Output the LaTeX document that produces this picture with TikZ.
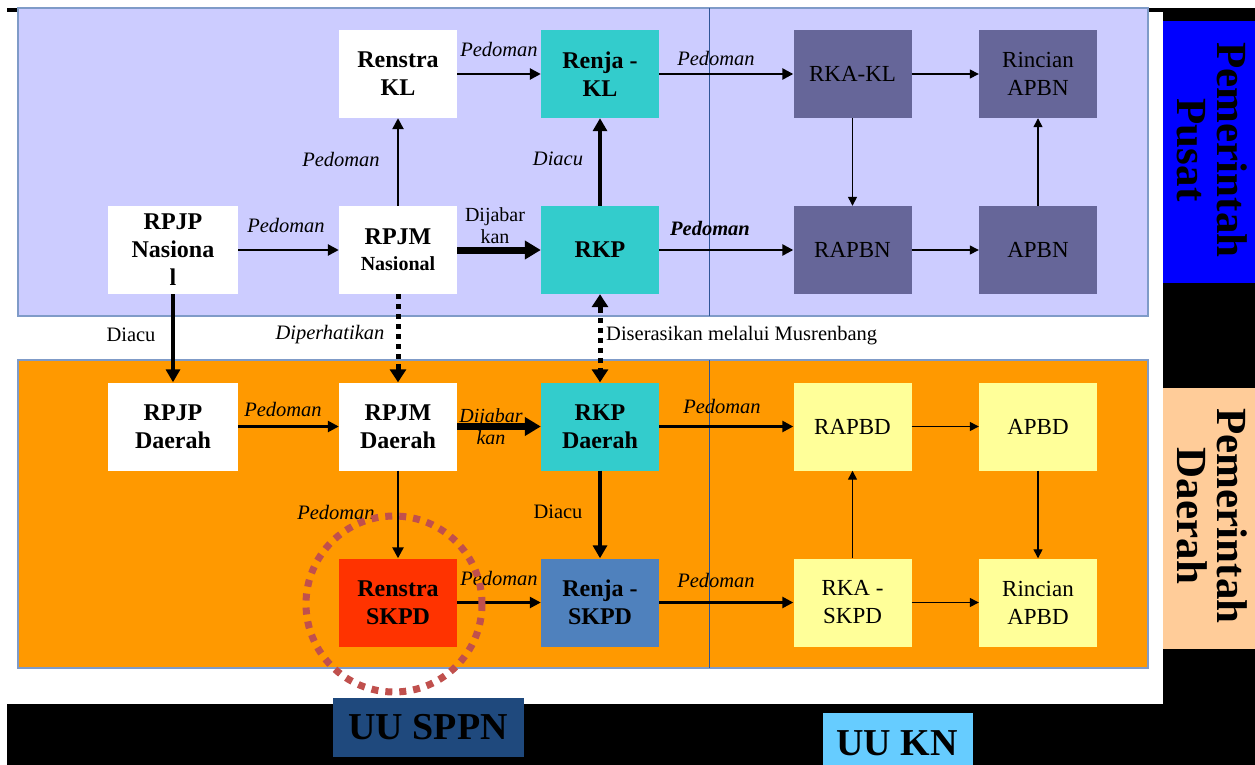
\documentclass[tikz,border=0pt]{standalone}
\usepackage{fontspec}
\setmainfont{Liberation Serif}
\usetikzlibrary{arrows.meta}
\definecolor{lav}{HTML}{CCCCFF}
\definecolor{panelline}{HTML}{7F9BC8}
\definecolor{divline}{HTML}{2F5597}
\definecolor{orng}{HTML}{FF9900}
\definecolor{teal2}{HTML}{33CCCC}
\definecolor{rka}{HTML}{666699}
\definecolor{ylw}{HTML}{FFFF99}
\definecolor{redbox}{HTML}{FF3300}
\definecolor{skpd}{HTML}{4F81BD}
\definecolor{pusat}{HTML}{0000FF}
\definecolor{peach}{HTML}{FFCC99}
\definecolor{sppn}{HTML}{1F497D}
\definecolor{ukn}{HTML}{66CCFF}
\definecolor{circ}{HTML}{C0504D}
\begin{document}
\begin{tikzpicture}[x=1pt,y=-1pt,
  box/.style={minimum width=118pt, minimum height=88pt, inner sep=0pt, align=center,
    font=\fontsize{24}{28}\selectfont\bfseries},
  wbox/.style={box, minimum width=130pt},
  rbox/.style={minimum width=118pt, minimum height=88pt, inner sep=0pt, align=center,
    font=\fontsize{23}{28}\selectfont},
  lab/.style={inner sep=0pt, align=center, font=\fontsize{20.5}{23}\selectfont\itshape},
  rlab/.style={inner sep=0pt, align=center, font=\fontsize{20.5}{23}\selectfont},
  tarr/.style={-{Triangle[length=9pt,width=9pt]}, line width=1.3pt},
  marr/.style={-{Triangle[length=11pt,width=11pt]}, line width=2.5pt},
  karr/.style={-{Triangle[length=13pt,width=14pt]}, line width=4pt},
  harr/.style={-{Triangle[length=16pt,width=18pt]}, line width=7pt},
  dotline/.style={line width=5pt, dash pattern=on 5pt off 5pt},
  dothead/.style={-{Triangle[length=13pt,width=16pt]}, line width=5pt},
  sidelab/.style={rotate=-90, align=center, inner sep=0pt, font=\fontsize{43}{40}\selectfont\bfseries},
  uulab/.style={inner sep=0pt, font=\fontsize{38}{40}\selectfont\bfseries}
]
\useasboundingbox (0,0) rectangle (1255,765);
% background
\fill[white] (0,0) rectangle (1255,765);
\fill[black] (7,8) rectangle (1255,765);
\fill[white] (7,12) rectangle (1163,704);
% side boxes
\fill[pusat] (1163,21) rectangle (1255,283);
\fill[peach] (1163,388) rectangle (1255,649);
\node[sidelab] (pp) at (1212,150) {Pemerintah\\Pusat};
\node[sidelab] (pd) at (1212,516) {Pemerintah\\Daerah};
% bottom labels
\fill[sppn] (333,698) rectangle (524,757);
\node[uulab] (uus) at (428,727) {UU SPPN};
\fill[ukn] (823,713) rectangle (973,765);
\node[uulab] (uuk) at (897,743) {UU KN};
% panels
\filldraw[fill=lav, draw=panelline, line width=1.2pt] (18,8) rectangle (1148,316);
\filldraw[fill=orng, draw=panelline, line width=1.2pt] (18,360) rectangle (1148,668);
\draw[divline, line width=1pt] (709,8) -- (709,316);
\draw[divline, line width=1pt] (709,360) -- (709,668);
% upper nodes
\node[box, fill=white] (renkl) at (398,74) {Renstra\\KL};
\node[box, fill=teal2] (renjakl) at (600,74) {Renja -\\KL};
\node[rbox, fill=rka] (rkakl) at (852.5,74) {RKA-KL};
\node[rbox, fill=rka] (rapbn2) at (1038,74) {Rincian\\APBN};
\node[wbox, fill=white] (rpjpn) at (173,250) {RPJP\\Nasiona\\l};
\node[box, fill=white] (rpjmn) at (398,250) {RPJM\\[-2pt]{\fontsize{20}{24}\selectfont Nasional}};
\node[box, fill=teal2] (rkp) at (600,250) {RKP};
\node[rbox, fill=rka] (rapbn) at (852.5,250) {RAPBN};
\node[rbox, fill=rka] (apbn) at (1038,250) {APBN};
% lower nodes
\node[wbox, fill=white] (rpjpd) at (173,426.5) {RPJP\\Daerah};
\node[box, fill=white] (rpjmd) at (398,426.5) {RPJM\\Daerah};
\node[box, fill=teal2] (rkpd) at (600,426.5) {RKP\\Daerah};
\node[rbox, fill=ylw] (rapbd) at (852.5,426.5) {RAPBD};
\node[rbox, fill=ylw] (apbd) at (1038,426.5) {APBD};
\node[box, fill=redbox] (rskpd) at (398,602.5) {Renstra\\SKPD};
\node[box, fill=skpd] (rjskpd) at (600,602.5) {Renja -\\SKPD};
\node[rbox, fill=ylw] (rkaskpd) at (852.5,602.5) {RKA -\\SKPD};
\node[rbox, fill=ylw] (rapbd2) at (1038,602.5) {Rincian\\APBD};
% helper points for dotted connectors
\coordinate (d1) at ([yshift=14pt]rpjmd.north);
\coordinate (d2) at ([yshift=-14pt]rkp.south);
\coordinate (d3) at ([yshift=14pt]rkpd.north);
% upper connectors
\draw[marr] (renkl) -- (renjakl);
\draw[marr] (renjakl) -- (rkakl);
\draw[tarr] (rkakl) -- (rapbn2);
\draw[tarr] (rkakl) -- (rapbn);
\draw[tarr] (rapbn) -- (apbn);
\draw[tarr] (apbn) -- (rapbn2);
\draw[marr] (rpjpn) -- (rpjmn);
\draw[marr] (rpjmn) -- (renkl);
\draw[harr] (rpjmn) -- (rkp);
\draw[karr] (rkp) -- (renjakl);
\draw[marr] (rkp) -- (rapbn);
% between panels
\draw[karr] (rpjpn) -- (rpjpd);
\draw[dotline] (rpjmn.south) -- (d1);
\draw[dothead] (d1) -- (rpjmd.north);
\draw[dotline] (d2) -- (d3);
\draw[dothead] (d2) -- (rkp.south);
\draw[dothead] (d3) -- (rkpd.north);
% lower connectors
\draw[marr] (rpjpd) -- (rpjmd);
\draw[harr] (rpjmd) -- (rkpd);
\draw[marr] (rkpd) -- (rapbd);
\draw[karr] (rkpd) -- (rjskpd);
\draw[marr] (rpjmd) -- (rskpd);
\draw[marr] (rskpd) -- (rjskpd);
\draw[marr] (rjskpd) -- (rkaskpd);
\draw[tarr] (rkaskpd) -- (rapbd);
\draw[tarr] (rapbd) -- (apbd);
\draw[tarr] (apbd) -- (rapbd2);
\draw[tarr] (rkaskpd) -- (rapbd2);
% labels
\node[lab] (l1) at (499,49) {Pedoman};
\node[lab] (l2) at (716,58) {Pedoman};
\node[lab] (l3) at (286,225) {Pedoman};
\node[lab] (l4) at (341,159) {Pedoman};
\node[rlab, font=\fontsize{20}{22}\selectfont] (l5) at (495,226) {Dijabar\\kan};
\node[lab] (l6) at (558,159) {Diacu};
\node[lab, font=\fontsize{20.5}{23}\selectfont\bfseries\itshape] (l7) at (710,228) {Pedoman};
\node[rlab] (l8) at (131,335) {Diacu};
\node[lab] (l9) at (330,335) {Diperhatikan};
\node[rlab, anchor=west] (l10) at (606,336) {Diserasikan melalui Musrenbang};
\node[lab] (l11) at (283,409) {Pedoman};
\node[lab, font=\fontsize{20}{22}\selectfont\itshape] (l12) at (491,427) {Dijabar\\kan};
\node[lab] (l13) at (722,406) {Pedoman};
\node[rlab] (l14) at (558,512) {Diacu};
\node[lab] (l15) at (336,512) {Pedoman};
\node[lab] (l16) at (499,578) {Pedoman};
\node[lab] (l17) at (716,580) {Pedoman};
% highlight circle
\draw[circ, line width=7pt, dash pattern=on 7pt off 7pt] (394,604) circle[radius=88pt];
\end{tikzpicture}
\end{document}
